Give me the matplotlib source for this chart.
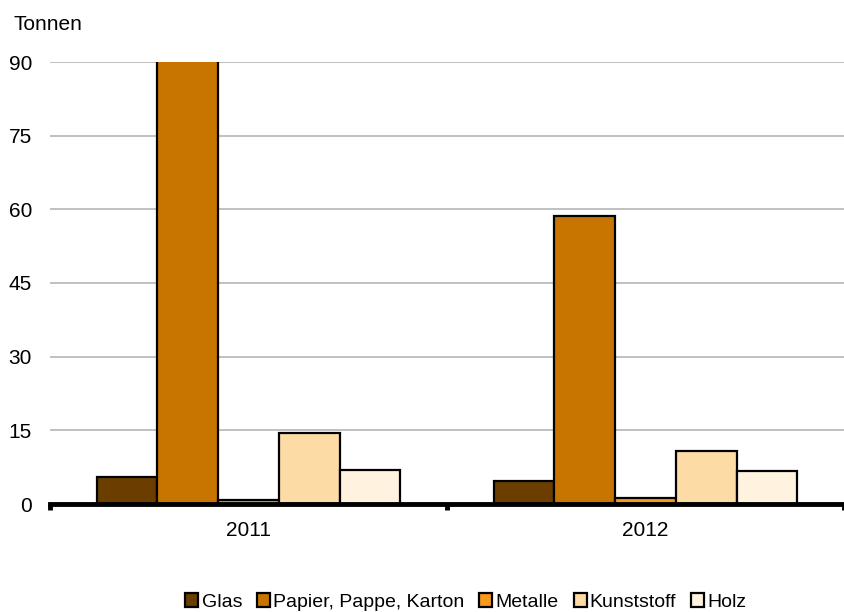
import matplotlib
matplotlib.use("Agg")
import matplotlib.pyplot as plt
import numpy as np

plt.rcParams['font.family'] = ['Liberation Sans', 'DejaVu Sans']

years = ["2011", "2012"]
series = ["Glas", "Papier, Pappe, Karton", "Metalle", "Kunststoff", "Holz"]
glas = [5.5, 4.7]
papier = [95.0, 58.6]
metalle = [0.8, 1.2]
kunststoff = [14.4, 10.8]
holz = [7.0, 6.7]
values = [glas, papier, metalle, kunststoff, holz]
colors = ["#6B3E00", "#C87500", "#F59A1B", "#FDDBA5", "#FFF3E0"]
yticks = [0, 15, 30, 45, 60, 75, 90]

FS = 15
LFS = 14

fig = plt.figure(figsize=(8.44, 6.12), dpi=100)
ax = fig.add_axes([50/844, 1-504/612, 794/844, (504-62)/612])

x = np.arange(len(years))
w = 0.153
for i, (name, vals, c) in enumerate(zip(series, values, colors)):
    ax.bar(x + (i - 2) * w, vals, width=w, color=c, edgecolor="black",
           linewidth=1.6, label=name, zorder=3)

ax.set_ylim(0, 90)
ax.set_xlim(-0.5, 1.5)
ax.set_yticks(yticks)
ax.set_yticklabels([str(t) for t in yticks], fontsize=FS)
ax.yaxis.grid(True, color="#C0C0C0", linewidth=1.4, zorder=0)
ax.set_axisbelow(True)

ax.set_xticks([-0.5, 0.5, 1.5])
ax.set_xticklabels([])
ax.set_xticks(x, minor=True)
ax.set_xticklabels(years, minor=True, fontsize=FS)
ax.tick_params(axis='x', which='major', length=4, width=3.5, direction='out', color='black')
ax.tick_params(axis='x', which='minor', length=0, pad=12)
ax.tick_params(axis='y', length=0, pad=13)

for s in ["top", "right", "left"]:
    ax.spines[s].set_visible(False)
ax.spines["bottom"].set_linewidth(3.5)
ax.spines["bottom"].set_zorder(5)

fig.text(13/844, 1-24/612, "Tonnen", fontsize=FS, va="center", ha="left")

handles, labels = ax.get_legend_handles_labels()
fig.legend(handles, labels, loc="center", bbox_to_anchor=(466/844, 1-602/612),
           ncol=5, frameon=False, fontsize=LFS, handlelength=0.67, handleheight=0.67,
           handletextpad=0.16, columnspacing=0.77, borderpad=0.0)

fig.savefig("out.png", dpi=100)
